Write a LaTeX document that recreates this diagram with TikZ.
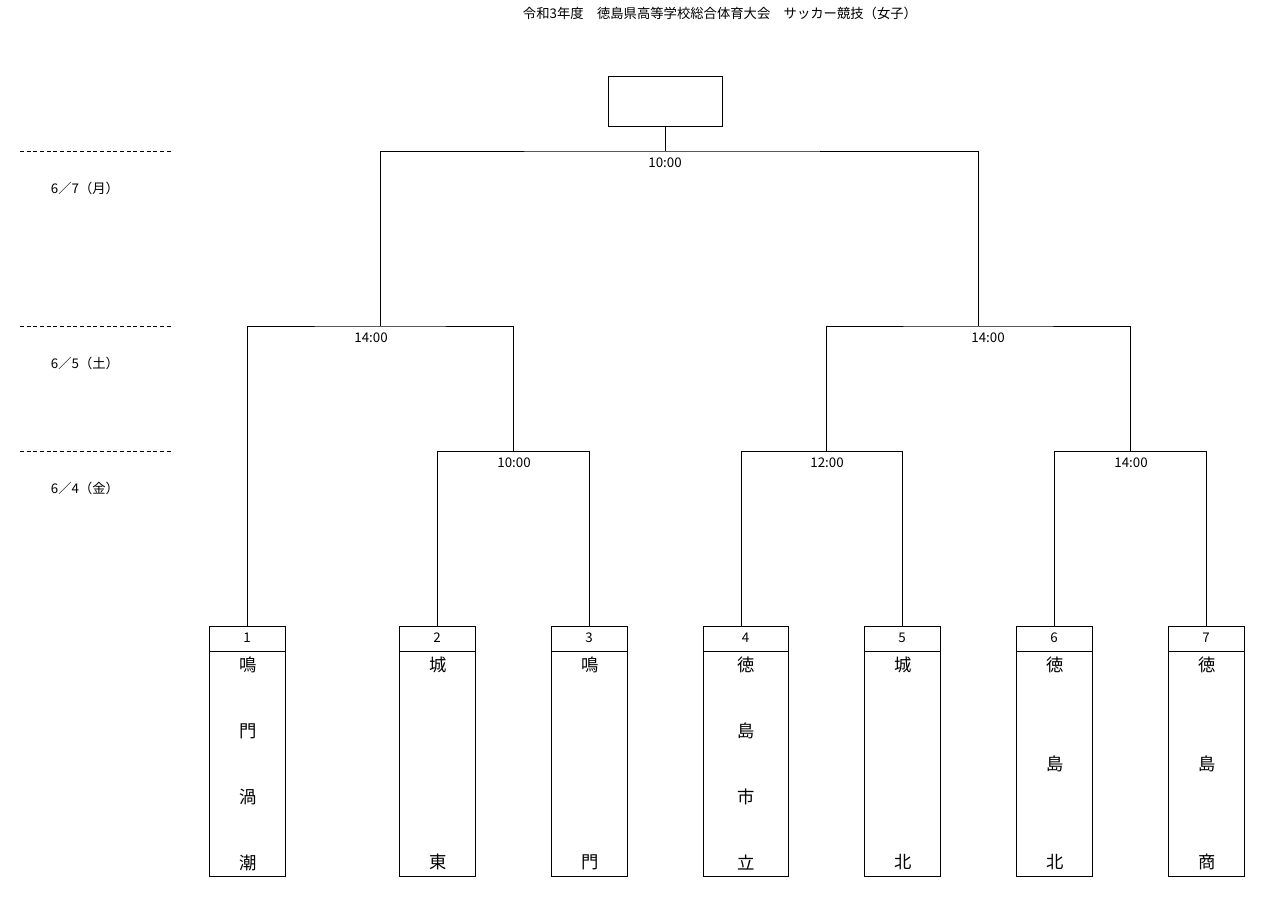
\documentclass[tikz,border=0pt]{standalone}
\usepackage{fontspec}
\setmainfont{Noto Sans CJK JP}
\begin{document}
\begin{tikzpicture}[x=0.75pt,y=-0.75pt,
  lbl/.style={font=\fontsize{10}{12}\selectfont,inner sep=0pt},
  tm/.style={font=\fontsize{13}{15}\selectfont,inner sep=0pt},
  ln/.style={draw=black,line width=0.6pt}]
\useasboundingbox (0,0) rectangle (1270,904);
\node[lbl] (title) at (720,13) {令和3年度　徳島県高等学校総合体育大会　サッカー競技（女子）};
\draw[ln] (608,76) rectangle (722,126);
\coordinate (win) at (665,126);
% dashed day lines
\foreach \y in {151,326,451} \draw[densely dashed,line width=0.5pt] (20,\y) -- (172,\y);
\node[lbl] (d7) at (85,188) {6／7（月）};
\node[lbl] (d5) at (85,363) {6／5（土）};
\node[lbl] (d4) at (85,488) {6／4（金）};
% team boxes
\foreach \i/\a/\b in {1/209/285,2/399/475,3/551/627,4/703/788,5/864/940,6/1016/1092,7/1168/1244}{
  \draw[ln] (\a,626) rectangle (\b,876);
  \draw[ln] (\a,651) -- (\b,651);
  \node[lbl] (n\i) at ({(\a+\b)/2},638) {\i};
}
\foreach \i/\x in {1/247,2/437,3/589,4/741,5/902,6/1054,7/1206} \coordinate (t\i) at (\x,626);
% team names
\foreach \c [count=\k] in {鳴,門,渦,潮} \node[tm] (a\k) at (248,{665+66*(\k-1)}) {\c};
\node[tm] (b1) at (438,665) {城}; \node[tm] (b2) at (438,862) {東};
\node[tm] (c1) at (590,665) {鳴}; \node[tm] (c2) at (590,862) {門};
\foreach \c [count=\k] in {徳,島,市,立} \node[tm] (e\k) at (746,{665+66*(\k-1)}) {\c};
\node[tm] (f1) at (903,665) {城}; \node[tm] (f2) at (903,862) {北};
\foreach \c [count=\k] in {徳,島,北} \node[tm] (g\k) at (1055,{665+98.5*(\k-1)}) {\c};
\foreach \c [count=\k] in {徳,島,商} \node[tm] (h\k) at (1207,{665+98.5*(\k-1)}) {\c};
% first round
\coordinate (m1) at (513,451); \coordinate (m2) at (826,451); \coordinate (m3) at (1130,451);
\draw[ln] (t2) |- (m1) -| (t3);
\draw[ln] (t4) |- (m2) -| (t5);
\draw[ln] (t6) |- (m3) -| (t7);
\node[lbl] at (514,463) {10:00};
\node[lbl] at (827,463) {12:00};
\node[lbl] at (1131,463) {14:00};
% semis
\coordinate (s1) at (380,326); \coordinate (s2) at (978,326);
\draw[ln] (t1) |- (s1) -| (m1);
\draw[ln] (m2) |- (s2) -| (m3);
\node[lbl] at (371,338) {14:00};
\node[lbl] at (988,338) {14:00};
% final
\coordinate (f) at (665,151);
\draw[ln] (s1) |- (f) -| (s2);
\draw[ln] (f) -- (win);
\node[lbl] at (665,163) {10:00};
\end{tikzpicture}
\end{document}
